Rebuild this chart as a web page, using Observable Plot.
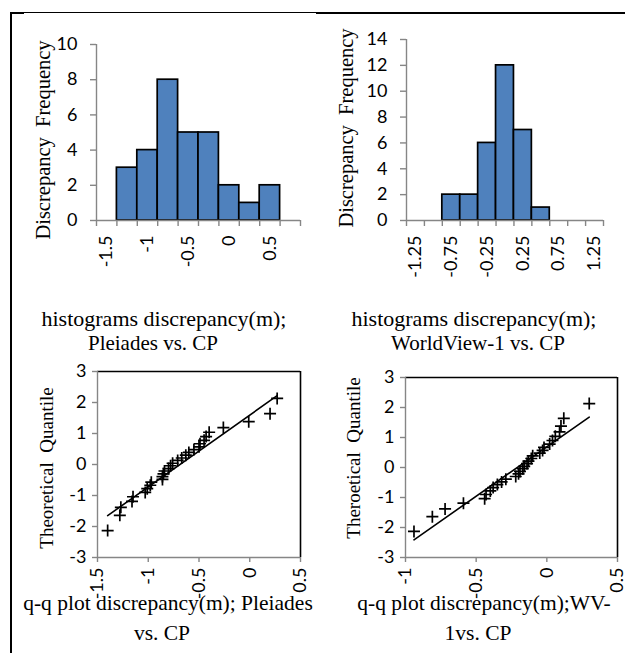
<!DOCTYPE html>
<html>
<head>
<meta charset="utf-8">
<script src="https://cdn.jsdelivr.net/npm/d3@7"></script>
<script src="https://cdn.jsdelivr.net/npm/@observablehq/plot@0.6"></script>
<style>
  html, body { margin: 0; padding: 0; background: #fff; }
  #fig { position: relative; width: 625px; height: 653px; overflow: hidden; background: #fff; }
  .panel { position: absolute; }
  .panel svg { overflow: visible; }
  #overlay { position: absolute; left: 0; top: 0; pointer-events: none; }
</style>
</head>
<body>
<div id="fig">
  <div class="panel" id="p1" style="left:0px;top:0px"></div>
  <div class="panel" id="p2" style="left:310px;top:0px"></div>
  <div class="panel" id="p3" style="left:0px;top:300px"></div>
  <div class="panel" id="p4" style="left:310px;top:300px"></div>
</div>
<script>
// ---------- data ----------
const pleiadesBins = ["-1.5","-1.25","-1","-0.75","-0.5","-0.25","0","0.25","0.5","0.75"];
const pleiadesFreq = [0, 3, 4, 8, 5, 5, 2, 1, 2, 0];
const pleiadesFreqTicks = [0, 2, 4, 6, 8, 10];

const wv1Bins = ["-1.25","-1","-0.75","-0.5","-0.25","0","0.25","0.5","0.75","1","1.25"];
const wv1Freq = [0, 0, 2, 2, 6, 12, 7, 1, 0, 0, 0];
const wv1FreqTicks = [0, 2, 4, 6, 8, 10, 12, 14];

const theoQuantile = [-2.13,-1.64,-1.38,-1.19,-1.04,-0.90,-0.78,-0.67,-0.57,-0.48,-0.39,-0.30,-0.21,-0.13,-0.04,
                       0.04, 0.13, 0.21, 0.30, 0.39, 0.48, 0.57, 0.67, 0.78, 0.90, 1.04, 1.19, 1.38, 1.64, 2.13];
const pleiadesDisc = [-1.40,-1.28,-1.27,-1.16,-1.15,-1.03,-1.01,-0.98,-0.97,-0.86,-0.86,-0.85,-0.84,-0.80,-0.78,
                      -0.76,-0.71,-0.67,-0.63,-0.60,-0.55,-0.50,-0.49,-0.45,-0.43,-0.40,-0.26,-0.01, 0.20, 0.27];
const wv1Disc = [-0.94,-0.81,-0.72,-0.59,-0.44,-0.43,-0.40,-0.38,-0.35,-0.32,-0.29,-0.22,-0.20,-0.19,-0.17,
                 -0.16,-0.14,-0.13,-0.11,-0.10,-0.05,-0.03,-0.02, 0.02, 0.04, 0.06, 0.09, 0.10, 0.12, 0.30];
const pleiadesFitX = [-1.40, 0.27];
const pleiadesFitY = [-1.65, 2.22];
const wv1FitX = [-0.94, 0.30];
const wv1FitY = [-2.41, 1.68];

const qqYTicks = [-3, -2, -1, 0, 1, 2, 3];
const pleiadesQQXTicks = [-1.5, -1, -0.5, 0, 0.5];
const wv1QQXTicks = [-1, -0.5, 0, 0.5];

// ---------- style ----------
const GRAY = "#868686";
const BLUE = "#4F81BD";
const SANS = "Lato, 'Noto Sans', sans-serif";
const SERIF = "'Liberation Serif', 'Times New Roman', serif";
const fmt = d => String(d);

function histogram(bins, freq, yTicks, g) {
  const n = bins.length;
  const data = bins.map((b, i) => ({i, bin: b, freq: freq[i]})).filter(d => d.freq > 0);
  const labelPos = d3.range(0, n, 2).map(i => i + 0.5);
  return Plot.plot({
    width: g.width, height: g.height,
    marginLeft: g.ml, marginRight: g.mr, marginTop: g.mt, marginBottom: g.mb,
    x: {type: "linear", domain: [0, n]},
    y: {domain: [0, yTicks[yTicks.length - 1]]},
    style: {fontFamily: SANS, fontSize: "18px", background: "transparent", overflow: "visible"},
    marks: [
      Plot.rectY(data, {x1: d => d.i, x2: d => d.i + 1, y: "freq", fill: BLUE, stroke: "#000", strokeWidth: 1.7}),
      Plot.ruleY([0], {stroke: GRAY, strokeWidth: 1.4}),
      Plot.ruleX([0], {stroke: GRAY, strokeWidth: 1.4}),
      Plot.axisY(yTicks, {tickSize: 6, tickPadding: 13, stroke: GRAY, strokeWidth: 1.4, fill: "#000", fontSize: 18, tickFormat: fmt, label: null}),
      Plot.axisX(d3.range(n + 1), {tickSize: 6, tickFormat: () => "", stroke: GRAY, strokeWidth: 1.4, label: null}),
      Plot.axisX(labelPos, {tickSize: 0, tickPadding: 15, tickRotate: -90, tickFormat: v => bins[Math.floor(v)], fill: "#000", fontSize: 18, label: null})
    ]
  });
}

const plusSymbol = {
  draw(context, size) {
    const h = Math.sqrt(size / Math.PI);
    context.moveTo(-h, 0); context.lineTo(h, 0);
    context.moveTo(0, -h); context.lineTo(0, h);
  }
};

function qqplot(xs, ys, fitX, fitY, xTicks, g) {
  const pts = xs.map((x, i) => ({x, y: ys[i]}));
  const fit = fitX.map((x, i) => ({x, y: fitY[i]}));
  const xd = [xTicks[0], xTicks[xTicks.length - 1]];
  return Plot.plot({
    width: g.width, height: g.height,
    marginLeft: g.ml, marginRight: g.mr, marginTop: g.mt, marginBottom: g.mb,
    x: {domain: xd},
    y: {domain: [-3, 3]},
    style: {fontFamily: SANS, fontSize: "18px", background: "transparent", overflow: "visible"},
    marks: [
      Plot.ruleY([3], {stroke: "#000", strokeWidth: 1.3}),
      Plot.ruleX([xd[1]], {stroke: "#000", strokeWidth: 1.6}),
      Plot.ruleY([-3], {stroke: GRAY, strokeWidth: 1.4}),
      Plot.ruleX([xd[0]], {stroke: GRAY, strokeWidth: 1.4}),
      Plot.line(fit, {x: "x", y: "y", stroke: "#000", strokeWidth: 1.6}),
      Plot.dot(pts, {x: "x", y: "y", symbol: plusSymbol, r: 6, stroke: "#000", strokeWidth: 1.7, fill: "none"}),
      Plot.axisY(qqYTicks, {tickSize: 5, tickPadding: 6, stroke: GRAY, strokeWidth: 1.4, fill: "#000", fontSize: 18, tickFormat: fmt, label: null}),
      Plot.axisX(xTicks, {tickSize: 5, tickPadding: 5, tickRotate: -90, stroke: GRAY, strokeWidth: 1.4, fill: "#000", fontSize: 18, tickFormat: fmt, label: null})
    ]
  });
}

document.getElementById("p1").append(histogram(pleiadesBins, pleiadesFreq, pleiadesFreqTicks,
  {width: 310, height: 300, ml: 96, mr: 10, mt: 44, mb: 80}));
document.getElementById("p2").append(histogram(wv1Bins, wv1Freq, wv1FreqTicks,
  {width: 315, height: 300, ml: 96, mr: 22, mt: 39, mb: 80}));
document.getElementById("p3").append(qqplot(pleiadesDisc, theoQuantile, pleiadesFitX, pleiadesFitY, pleiadesQQXTicks,
  {width: 310, height: 353, ml: 97, mr: 10, mt: 71, mb: 96}));
document.getElementById("p4").append(qqplot(wv1Disc, theoQuantile, wv1FitX, wv1FitY, wv1QQXTicks,
  {width: 315, height: 353, ml: 95, mr: 8, mt: 77, mb: 96}));

// ---------- overlay: frame lines and captions ----------
const ov = d3.select("#fig").append("svg").attr("id", "overlay").attr("width", 625).attr("height", 653);
ov.append("line").attr("x1", 11).attr("x2", 11).attr("y1", 12).attr("y2", 653).attr("stroke", "#000").attr("stroke-width", 2);
ov.append("line").attr("x1", 10).attr("x2", 24).attr("y1", 13).attr("y2", 13).attr("stroke", "#000").attr("stroke-width", 2);
ov.append("line").attr("x1", 24).attr("x2", 316).attr("y1", 12.5).attr("y2", 12.5).attr("stroke", "#000").attr("stroke-width", 1);
ov.append("line").attr("x1", 316).attr("x2", 625).attr("y1", 13).attr("y2", 13).attr("stroke", "#000").attr("stroke-width", 2);

function textLine(x, y, s, size) {
  ov.append("text").attr("x", x).attr("y", y).attr("text-anchor", "middle")
    .attr("font-family", SERIF).attr("font-size", size).attr("fill", "#000").text(s);
}
function rotLabel(x, y, s, size) {
  ov.append("text").attr("transform", `translate(${x},${y}) rotate(-90)`).attr("text-anchor", "middle")
    .attr("font-family", SERIF).attr("font-size", size).attr("fill", "#000").text(s);
}

rotLabel(50, 140, "Discrepancy\u00a0\u00a0Frequency", 20.5);
rotLabel(353, 128, "Discrepancy\u00a0\u00a0Frequency", 20.5);
rotLabel(53, 468, "Theoretical\u00a0\u00a0Quantile", 19);
rotLabel(360, 458, "Theroetical\u00a0\u00a0Quantile", 19);

textLine(164, 326, "histograms discrepancy(m);", 22);
textLine(153, 350, "Pleiades vs. CP", 21);
textLine(474, 326, "histograms discrepancy(m);", 22);
textLine(478, 350, "WorldView-1 vs. CP", 21);

textLine(168, 610, "q-q plot discrepancy(m); Pleiades", 21.5);
textLine(162, 640, "vs. CP", 21.5);
textLine(484, 610, "q-q plot discrepancy(m);WV-", 21.5);
textLine(478, 640, "1vs. CP", 21.5);
</script>
</body>
</html>
